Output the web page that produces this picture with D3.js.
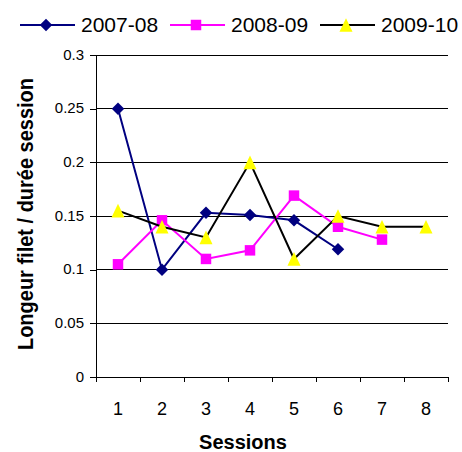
<!DOCTYPE html>
<html>
<head>
<meta charset="utf-8">
<script src="https://cdn.jsdelivr.net/npm/d3@7/dist/d3.min.js"></script>
<style>
  html, body { margin: 0; padding: 0; background: #fff; }
  svg { display: block; font-family: "Liberation Sans", Arial, sans-serif; }
</style>
</head>
<body>
<svg id="chart" width="462" height="452"></svg>
<script>
// Net length per session duration, by fishing season
const sessions = ["1", "2", "3", "4", "5", "6", "7", "8"];
const seasons = ["2007-08", "2008-09", "2009-10"];
const values200708 = [0.25, 0.10, 0.153, 0.151, 0.146, 0.119];
const values200809 = [0.105, 0.146, 0.11, 0.118, 0.169, 0.14, 0.128];
const values200910 = [0.155, 0.14, 0.13, 0.20, 0.11, 0.15, 0.14, 0.14];
const yTicks = [0, 0.05, 0.1, 0.15, 0.2, 0.25, 0.3];

const seriesStyle = [
  { name: seasons[0], values: values200708, line: "#000080", fill: "#000080", marker: "diamond" },
  { name: seasons[1], values: values200809, line: "#FF00FF", fill: "#FF00FF", marker: "square" },
  { name: seasons[2], values: values200910, line: "#000000", fill: "#FFFF00", marker: "triangle" }
];

const svg = d3.select("#chart");
const plot = { left: 96, right: 448, top: 55, bottom: 377 };

const x = d3.scaleBand().domain(sessions).range([plot.left, plot.right]).padding(0);
const xEdges = d3.scaleLinear().domain([0, sessions.length]).range([plot.left, plot.right]);
const y = d3.scaleLinear().domain([0, 0.3]).range([plot.bottom, plot.top]);

// Horizontal gridlines
svg.append("g")
  .selectAll("line")
  .data(yTicks.filter(d => d > 0))
  .join("line")
  .attr("x1", plot.left).attr("x2", plot.right)
  .attr("y1", d => y(d)).attr("y2", d => y(d))
  .attr("stroke", "#000").attr("stroke-width", 1)
  .attr("shape-rendering", "crispEdges");

// Y axis
const yAxis = svg.append("g")
  .attr("transform", `translate(${plot.left},0)`)
  .call(d3.axisLeft(y).tickValues(yTicks).tickFormat(d => String(d)).tickSize(6).tickPadding(6).tickSizeOuter(0));
yAxis.selectAll("path, line").attr("stroke", "#000").attr("shape-rendering", "crispEdges");
yAxis.selectAll("text").attr("font-size", 15).attr("fill", "#000").attr("dy", "0.28em")
  .style("font-family", "'Liberation Sans', Arial, sans-serif");

// X axis: tick marks at category edges, labels centred in each band
const xTickAxis = svg.append("g")
  .attr("transform", `translate(0,${plot.bottom})`)
  .call(d3.axisBottom(xEdges).ticks(sessions.length).tickFormat("").tickSize(5).tickSizeOuter(0));
xTickAxis.selectAll("path, line").attr("stroke", "#000").attr("shape-rendering", "crispEdges");

const xLabelAxis = svg.append("g")
  .attr("transform", `translate(0,${plot.bottom})`)
  .call(d3.axisBottom(x).tickSize(0).tickPadding(25));
xLabelAxis.select("path").remove();
xLabelAxis.selectAll("text").attr("font-size", 18).attr("fill", "#000")
  .style("font-family", "'Liberation Sans', Arial, sans-serif");

// Axis titles
svg.append("text")
  .attr("x", 243).attr("y", 449)
  .attr("text-anchor", "middle")
  .attr("font-size", 20).attr("font-weight", "bold")
  .text("Sessions");

svg.append("text")
  .attr("transform", "translate(33,214) scale(1.12,1) rotate(-90)")
  .attr("text-anchor", "middle")
  .attr("font-size", 20).attr("font-weight", "bold")
  .text("Longeur filet / durée session");

// Marker shapes; the triangle is centred on its bounding box
const boxTriangle = {
  draw(context, size) {
    const w = Math.sqrt(size * 2);
    const h = w * 1.05;
    context.moveTo(0, -h / 2);
    context.lineTo(w / 2, h / 2);
    context.lineTo(-w / 2, h / 2);
    context.closePath();
  }
};
const symbolFor = {
  diamond: d3.symbol().type(d3.symbolDiamond2).size(100),
  square: d3.symbol().type(d3.symbolSquare).size(110),
  triangle: d3.symbol().type(boxTriangle).size(85)
};

const line = d3.line()
  .x((d, i) => x(sessions[i]) + x.bandwidth() / 2)
  .y(d => y(d));

seriesStyle.forEach(s => {
  const g = svg.append("g");
  g.append("path")
    .datum(s.values)
    .attr("d", line)
    .attr("fill", "none")
    .attr("stroke", s.line)
    .attr("stroke-width", 2);
  g.selectAll("path.marker")
    .data(s.values)
    .join("path")
    .attr("class", "marker")
    .attr("d", symbolFor[s.marker])
    .attr("transform", (d, i) => `translate(${x(sessions[i]) + x.bandwidth() / 2},${y(d)})`)
    .attr("fill", s.fill);
});

// Legend
const legend = svg.append("g").attr("transform", "translate(20,25)");
seriesStyle.forEach((s, i) => {
  const item = legend.append("g").attr("transform", `translate(${i * 150},0)`);
  item.append("line")
    .attr("x1", 0).attr("x2", 55).attr("y1", 0).attr("y2", 0)
    .attr("stroke", s.line).attr("stroke-width", 2);
  item.append("path")
    .attr("d", symbolFor[s.marker])
    .attr("transform", "translate(26,0)")
    .attr("fill", s.fill);
  item.append("text")
    .attr("x", 61).attr("y", 7)
    .attr("font-size", 21)
    .attr("fill", "#000")
    .text(s.name);
});
</script>
</body>
</html>
